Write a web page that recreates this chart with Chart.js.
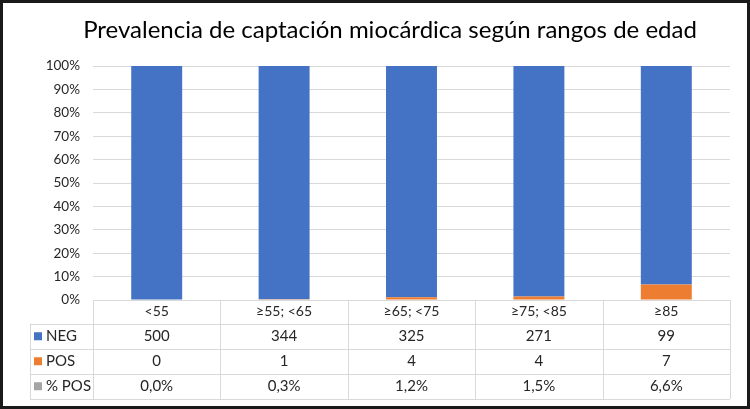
<!DOCTYPE html>
<html>
<head>
<meta charset="utf-8">
<script src="https://cdn.jsdelivr.net/npm/chart.js@4"></script>
<style>
  html, body { margin: 0; padding: 0; background: #fff; }
  #wrap { position: relative; width: 750px; height: 409px; }
</style>
</head>
<body>
<div id="wrap"><canvas id="ageChart" width="750" height="409"></canvas></div>
<script>
// data
const categories = ['<55', '\u226555; <65', '\u226565; <75', '\u226575; <85', '\u226585'];
const negCounts = [500, 344, 325, 271, 99];
const posCounts = [0, 1, 4, 4, 7];
const pctPosLabels = ['0,0%', '0,3%', '1,2%', '1,5%', '6,6%'];
const yTicks = [0, 10, 20, 30, 40, 50, 60, 70, 80, 90, 100];
const titleText = 'Prevalencia de captaci\u00f3n mioc\u00e1rdica seg\u00fan rangos de edad';

const BLUE = '#4472c4';
const ORANGE = '#ed7d31';
const GREY = '#a5a5a5';
const LINE = '#d9d9d9';
const TEXT = '#262626';
const FONT = 'Lato, "Open Sans", sans-serif';

// 100% stacked shares
const negPct = negCounts.map((v, i) => 100 * v / (v + posCounts[i]));
const posPct = posCounts.map((v, i) => 100 * v / (negCounts[i] + v));

const tableRows = [
  { name: 'NEG', color: BLUE, values: negCounts.map(String) },
  { name: 'POS', color: ORANGE, values: posCounts.map(String) },
  { name: '% POS', color: GREY, values: pctPosLabels }
];

// title, data table under the plot, outer frame
const dataTable = {
  id: 'dataTable',
  afterDraw(chart) {
    const ctx = chart.ctx;
    const area = chart.chartArea;
    const x = chart.scales.x;
    const half = (x.getPixelForValue(1) - x.getPixelForValue(0)) / 2;
    const top = area.bottom;
    const rowY = [top, top + 23.5, top + 49, top + 73.5, top + 99];
    const legLeft = 30;

    ctx.save();
    ctx.fillStyle = '#000';
    ctx.textAlign = 'center';
    ctx.textBaseline = 'middle';
    ctx.font = '24px ' + FONT;
    ctx.fillText(titleText, 390, 30);

    ctx.strokeStyle = LINE;
    ctx.lineWidth = 1;
    ctx.beginPath();
    // horizontal lines
    ctx.moveTo(area.left, rowY[0] + 0.5); ctx.lineTo(area.right, rowY[0] + 0.5);
    for (let r = 1; r < rowY.length; r++) {
      ctx.moveTo(legLeft, Math.round(rowY[r]) + 0.5);
      ctx.lineTo(area.right, Math.round(rowY[r]) + 0.5);
    }
    // vertical lines
    ctx.moveTo(legLeft + 0.5, rowY[1]); ctx.lineTo(legLeft + 0.5, rowY[4]);
    for (let i = 0; i <= categories.length; i++) {
      const px = Math.round(x.getPixelForValue(i) - half) + 0.5;
      ctx.moveTo(px, rowY[0]); ctx.lineTo(px, rowY[4]);
    }
    ctx.stroke();

    ctx.fillStyle = TEXT;
    ctx.font = '14px ' + FONT;
    categories.forEach((c, i) => {
      ctx.fillText(c, x.getPixelForValue(i), (rowY[0] + rowY[1]) / 2);
    });
    ctx.font = '15px ' + FONT;
    tableRows.forEach((row, r) => {
      const cy = (rowY[r + 1] + rowY[r + 2]) / 2;
      row.values.forEach((v, i) => {
        ctx.fillStyle = TEXT;
        ctx.textAlign = 'center';
        ctx.fillText(v, x.getPixelForValue(i), cy);
      });
      ctx.fillStyle = row.color;
      ctx.fillRect(legLeft + 4, cy - 4, 8, 8);
      ctx.fillStyle = TEXT;
      ctx.textAlign = 'left';
      ctx.fillText(row.name, legLeft + 16, cy);
    });

    // outer frame
    ctx.strokeStyle = '#1a1a1a';
    ctx.lineWidth = 3;
    ctx.strokeRect(1.5, 1.5, chart.width - 3, chart.height - 3);
    ctx.restore();
  }
};

new Chart(document.getElementById('ageChart'), {
  type: 'bar',
  data: {
    labels: categories,
    datasets: [
      { label: 'POS', data: posPct, backgroundColor: ORANGE, barPercentage: 0.8, categoryPercentage: 0.5 },
      { label: 'NEG', data: negPct, backgroundColor: BLUE, barPercentage: 0.8, categoryPercentage: 0.5 }
    ]
  },
  options: {
    responsive: false,
    animation: false,
    layout: { padding: { top: 66, left: 30, right: 20, bottom: 109 } },
    plugins: {
      legend: { display: false },
      tooltip: { enabled: false },
      title: { display: false }
    },
    scales: {
      x: {
        stacked: true,
        display: false
      },
      y: {
        stacked: true,
        min: 0,
        max: 100,
        afterFit(scale) { scale.width = 63; },
        afterBuildTicks(scale) { scale.ticks = yTicks.map(v => ({ value: v })); },
        border: { display: false },
        grid: { color: LINE, drawTicks: false },
        ticks: {
          padding: 13,
          color: TEXT,
          font: { family: FONT, size: 13.5 },
          callback: v => v + '%'
        }
      }
    }
  },
  plugins: [dataTable]
});
</script>
</body>
</html>
